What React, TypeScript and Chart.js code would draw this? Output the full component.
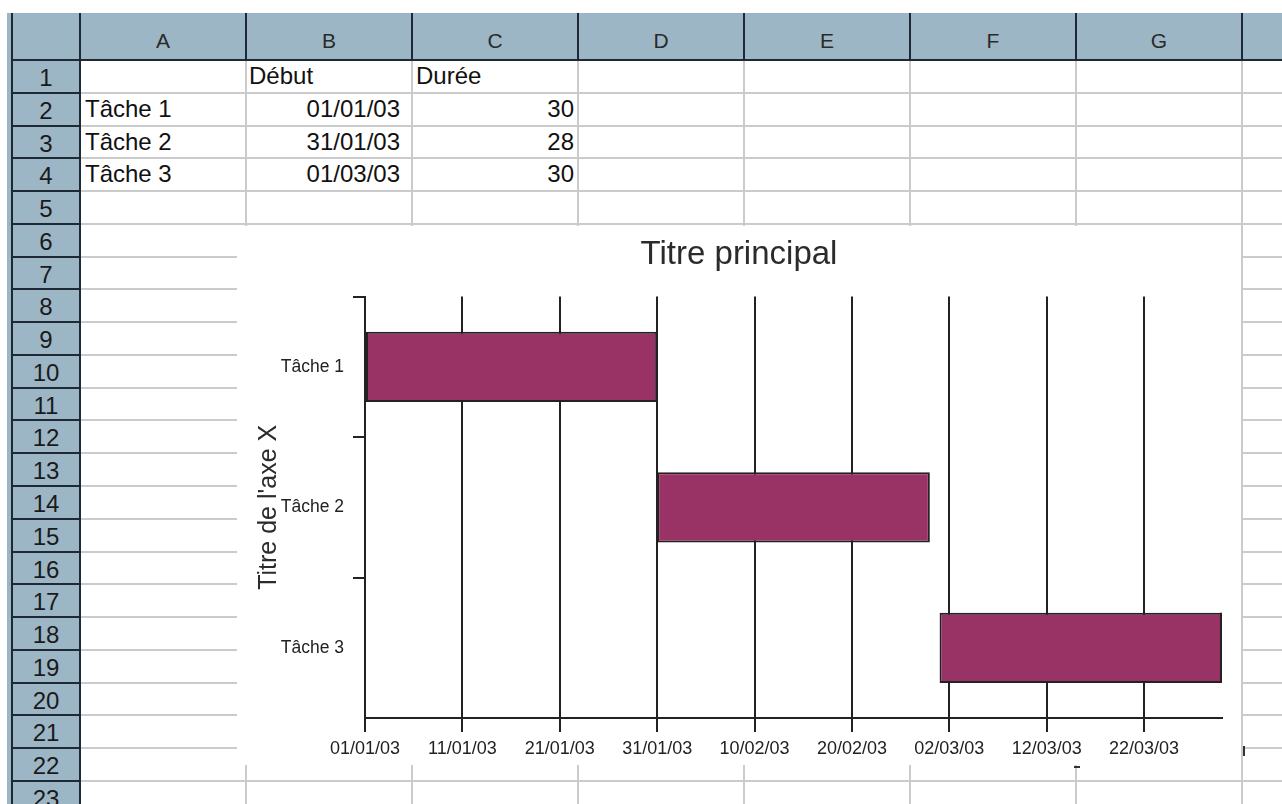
import React, { useEffect, useRef } from "react";
import { Chart, registerables } from "chart.js";

Chart.register(...registerables);

// ---------- data ----------
const taskNames = ["Tâche 1", "Tâche 2", "Tâche 3"];
const startDates = ["2003-01-01", "2003-01-31", "2003-03-01"];
const durations = [30, 28, 30];
const axisStartDate = "2003-01-01";
const axisMaxDays = 88;
const tickStepDays = 10;
const columnLetters = ["A", "B", "C", "D", "E", "F", "G"];
const headerLabels = ["", "Début", "Durée"];
const chartTitle = "Titre principal";
const yAxisTitle = "Titre de l'axe X";
const rowCount = 23;

// ---------- helpers ----------
const DAY_MS = 86400000;
function parseUTC(s: string): number {
  const [y, m, d] = s.split("-").map(Number);
  return Date.UTC(y, m - 1, d);
}
function fmtDate(ms: number): string {
  const d = new Date(ms);
  const dd = String(d.getUTCDate()).padStart(2, "0");
  const mm = String(d.getUTCMonth() + 1).padStart(2, "0");
  const yy = String(d.getUTCFullYear() % 100).padStart(2, "0");
  return `${dd}/${mm}/${yy}`;
}
const axisStartMs = parseUTC(axisStartDate);
const startDays = startDates.map((s) => Math.round((parseUTC(s) - axisStartMs) / DAY_MS));

// ---------- style constants ----------
const FONT = "'Liberation Sans', Arial, sans-serif";
const HEADER_BG = "#9db6c6";
const DARK = "#1d2935";
const GRID = "#cbcbcb";
const ROW_H = 32.77;
const HDR_TOP = 13;
const HDR_BOTTOM = 60;
const COL_X0 = 80;
const COL_W = 166;
const INK = "#222";

const clippedEdge = {
  id: "clippedEdge",
  afterDatasetsDraw(chart: any) {
    const { ctx, chartArea } = chart;
    const meta = chart.getDatasetMeta(0);
    ctx.save();
    ctx.strokeStyle = INK;
    ctx.lineWidth = 2;
    meta.data.forEach((el: any) => {
      const p = el.getProps(["x", "y", "height"], true);
      if (p.x > chartArea.right) {
        ctx.beginPath();
        ctx.moveTo(chartArea.right - 1, p.y - p.height / 2);
        ctx.lineTo(chartArea.right - 1, p.y + p.height / 2);
        ctx.stroke();
      }
    });
    ctx.restore();
  },
};

function GanttChart() {
  const ref = useRef<HTMLCanvasElement | null>(null);
  useEffect(() => {
    if (!ref.current) return;
    Chart.defaults.font.family = FONT;
    const chart = new Chart(ref.current, {
      type: "bar",
      data: {
        labels: taskNames,
        datasets: [
          {
            data: startDays.map((s, i) => [s, s + durations[i]]),
            backgroundColor: "#993366",
            borderColor: INK,
            borderWidth: 2,
            borderSkipped: false,
            barPercentage: 0.5,
            categoryPercentage: 1,
            clip: { left: false, top: false, bottom: false, right: 0 },
          } as any,
        ],
      },
      options: {
        indexAxis: "y",
        responsive: false,
        maintainAspectRatio: false,
        animation: false,
        layout: { padding: { left: 19, right: 19, top: 0, bottom: 0 } },
        plugins: {
          legend: { display: false },
          tooltip: { enabled: false },
          title: {
            display: true,
            text: chartTitle,
            color: "#2b2b2b",
            font: { family: FONT, size: 33, weight: "normal" },
            padding: { top: 9, bottom: 22 },
          },
        },
        scales: {
          x: {
            type: "linear",
            position: "bottom",
            min: 0,
            max: axisMaxDays,
            ticks: {
              stepSize: tickStepDays,
              includeBounds: false,
              autoSkip: false,
              maxRotation: 0,
              color: INK,
              padding: 6,
              font: { family: FONT, size: 18 },
              callback: (v: any) => fmtDate(axisStartMs + Number(v) * DAY_MS),
            },
            grid: {
              color: INK,
              lineWidth: 2,
              tickLength: 14,
              drawOnChartArea: true,
              drawTicks: true,
            },
            border: { display: true, color: INK, width: 2 },
            afterFit: (s: any) => {
              s.height = 47;
            },
          },
          y: {
            type: "category",
            offset: true,
            grid: {
              offset: true,
              drawOnChartArea: false,
              drawTicks: true,
              tickLength: 12,
              lineWidth: 2,
              color: (ctx: any) => (ctx.type === "tick" ? INK : "rgba(0,0,0,0)"),
            },
            border: { display: true, color: INK, width: 2 },
            ticks: {
              color: INK,
              padding: 9,
              font: { family: FONT, size: 17.5 },
            },
            title: {
              display: true,
              text: yAxisTitle,
              color: "#2b2b2b",
              font: { family: FONT, size: 25, weight: "normal" },
              padding: { top: -2, bottom: 0 },
            },
            afterFit: (s: any) => {
              s.width = 109;
            },
          },
        },
      } as any,
      plugins: [clippedEdge],
    });
    return () => chart.destroy();
  }, []);
  return (
    <canvas
      ref={ref}
      width={1004}
      height={539}
      style={{ width: 1004, height: 539, display: "block" }}
    />
  );
}

function abs(style: React.CSSProperties): React.CSSProperties {
  return { position: "absolute", ...style };
}

export default function App() {
  const rows = Array.from({ length: rowCount }, (_, i) => i);
  const cols = columnLetters.map((_, j) => j);
  const rowTop = (r: number) => HDR_BOTTOM + r * ROW_H;
  const colLeft = (c: number) => COL_X0 + c * COL_W;

  const cellText: { r: number; c: number; text: string; align: "left" | "right"; pad: number }[] = [];
  headerLabels.forEach((t, c) => {
    if (t) cellText.push({ r: 0, c, text: t, align: "left", pad: c === 1 ? 3 : 4 });
  });
  taskNames.forEach((t, i) => {
    cellText.push({ r: i + 1, c: 0, text: t, align: "left", pad: 5 });
    cellText.push({ r: i + 1, c: 1, text: fmtDate(parseUTC(startDates[i])), align: "right", pad: 12 });
    cellText.push({ r: i + 1, c: 2, text: String(durations[i]), align: "right", pad: 4 });
  });

  return (
    <div
      style={{
        position: "fixed",
        left: 0,
        top: 0,
        width: 1282,
        height: 804,
        overflow: "hidden",
        background: "#fff",
        fontFamily: FONT,
      }}
    >
      {/* header bands */}
      <div style={abs({ left: 7, top: HDR_TOP, width: 1275, height: HDR_BOTTOM - HDR_TOP, background: HEADER_BG })} />
      <div style={abs({ left: 7, top: HDR_BOTTOM, width: 73, height: 804 - HDR_BOTTOM, background: HEADER_BG })} />

      {/* cell grid */}
      {rows.map((r) => (
        <div key={"h" + r} style={abs({ left: COL_X0, top: rowTop(r + 1) - 1, width: 1282 - COL_X0, height: 2, background: GRID })} />
      ))}
      {cols.map((c) => (
        <div key={"v" + c} style={abs({ left: colLeft(c + 1) - 1, top: HDR_BOTTOM, width: 2, height: 804 - HDR_BOTTOM, background: GRID })} />
      ))}

      {/* cell texts */}
      {cellText.map((t, i) => (
        <div
          key={"t" + i}
          style={abs({
            left: colLeft(t.c),
            top: rowTop(t.r),
            width: COL_W,
            height: ROW_H,
            lineHeight: ROW_H + "px",
            fontSize: 24,
            color: "#111",
            textAlign: t.align,
            paddingLeft: t.align === "left" ? t.pad : 0,
            paddingRight: t.align === "right" ? t.pad : 0,
            boxSizing: "border-box",
            whiteSpace: "nowrap",
          })}
        >
          {t.text}
        </div>
      ))}

      {/* chart object */}
      <div style={abs({ left: 237, top: 226, width: 1004, height: 539, background: "#fff" })}>
        <GanttChart />
      </div>

      {/* dark header lines */}
      <div style={abs({ left: 11, top: HDR_TOP, width: 2, height: 804 - HDR_TOP, background: DARK })} />
      <div style={abs({ left: COL_X0 - 1, top: HDR_TOP, width: 2, height: 804 - HDR_TOP, background: DARK })} />
      <div style={abs({ left: 11, top: HDR_BOTTOM - 1, width: 1282 - 11, height: 2, background: DARK })} />
      {cols.map((c) => (
        <div key={"cs" + c} style={abs({ left: colLeft(c + 1) - 1, top: HDR_TOP, width: 2, height: HDR_BOTTOM - HDR_TOP, background: DARK })} />
      ))}
      {rows.map((r) => (
        <div key={"rs" + r} style={abs({ left: 11, top: rowTop(r + 1) - 1, width: COL_X0 - 11, height: 2, background: DARK })} />
      ))}

      {/* column letters */}
      {columnLetters.map((l, c) => (
        <div
          key={"cl" + c}
          style={abs({
            left: colLeft(c),
            top: HDR_TOP + 4,
            width: COL_W,
            height: HDR_BOTTOM - HDR_TOP,
            lineHeight: HDR_BOTTOM - HDR_TOP + "px",
            fontSize: 21,
            color: "#2a2a2a",
            textAlign: "center",
          })}
        >
          {l}
        </div>
      ))}

      {/* row numbers */}
      {rows.map((r) => (
        <div
          key={"rn" + r}
          style={abs({
            left: 12,
            top: rowTop(r) + 2,
            width: COL_X0 - 12,
            height: ROW_H,
            lineHeight: ROW_H + "px",
            fontSize: 24,
            color: "#1a1a1a",
            textAlign: "center",
          })}
        >
          {r + 1}
        </div>
      ))}

      {/* small handle marks of the chart object */}
      <div style={abs({ left: 1243, top: 746, width: 2, height: 10, background: "#333" })} />
      <div style={abs({ left: 1074, top: 766, width: 6, height: 2, background: "#333" })} />
    </div>
  );
}
